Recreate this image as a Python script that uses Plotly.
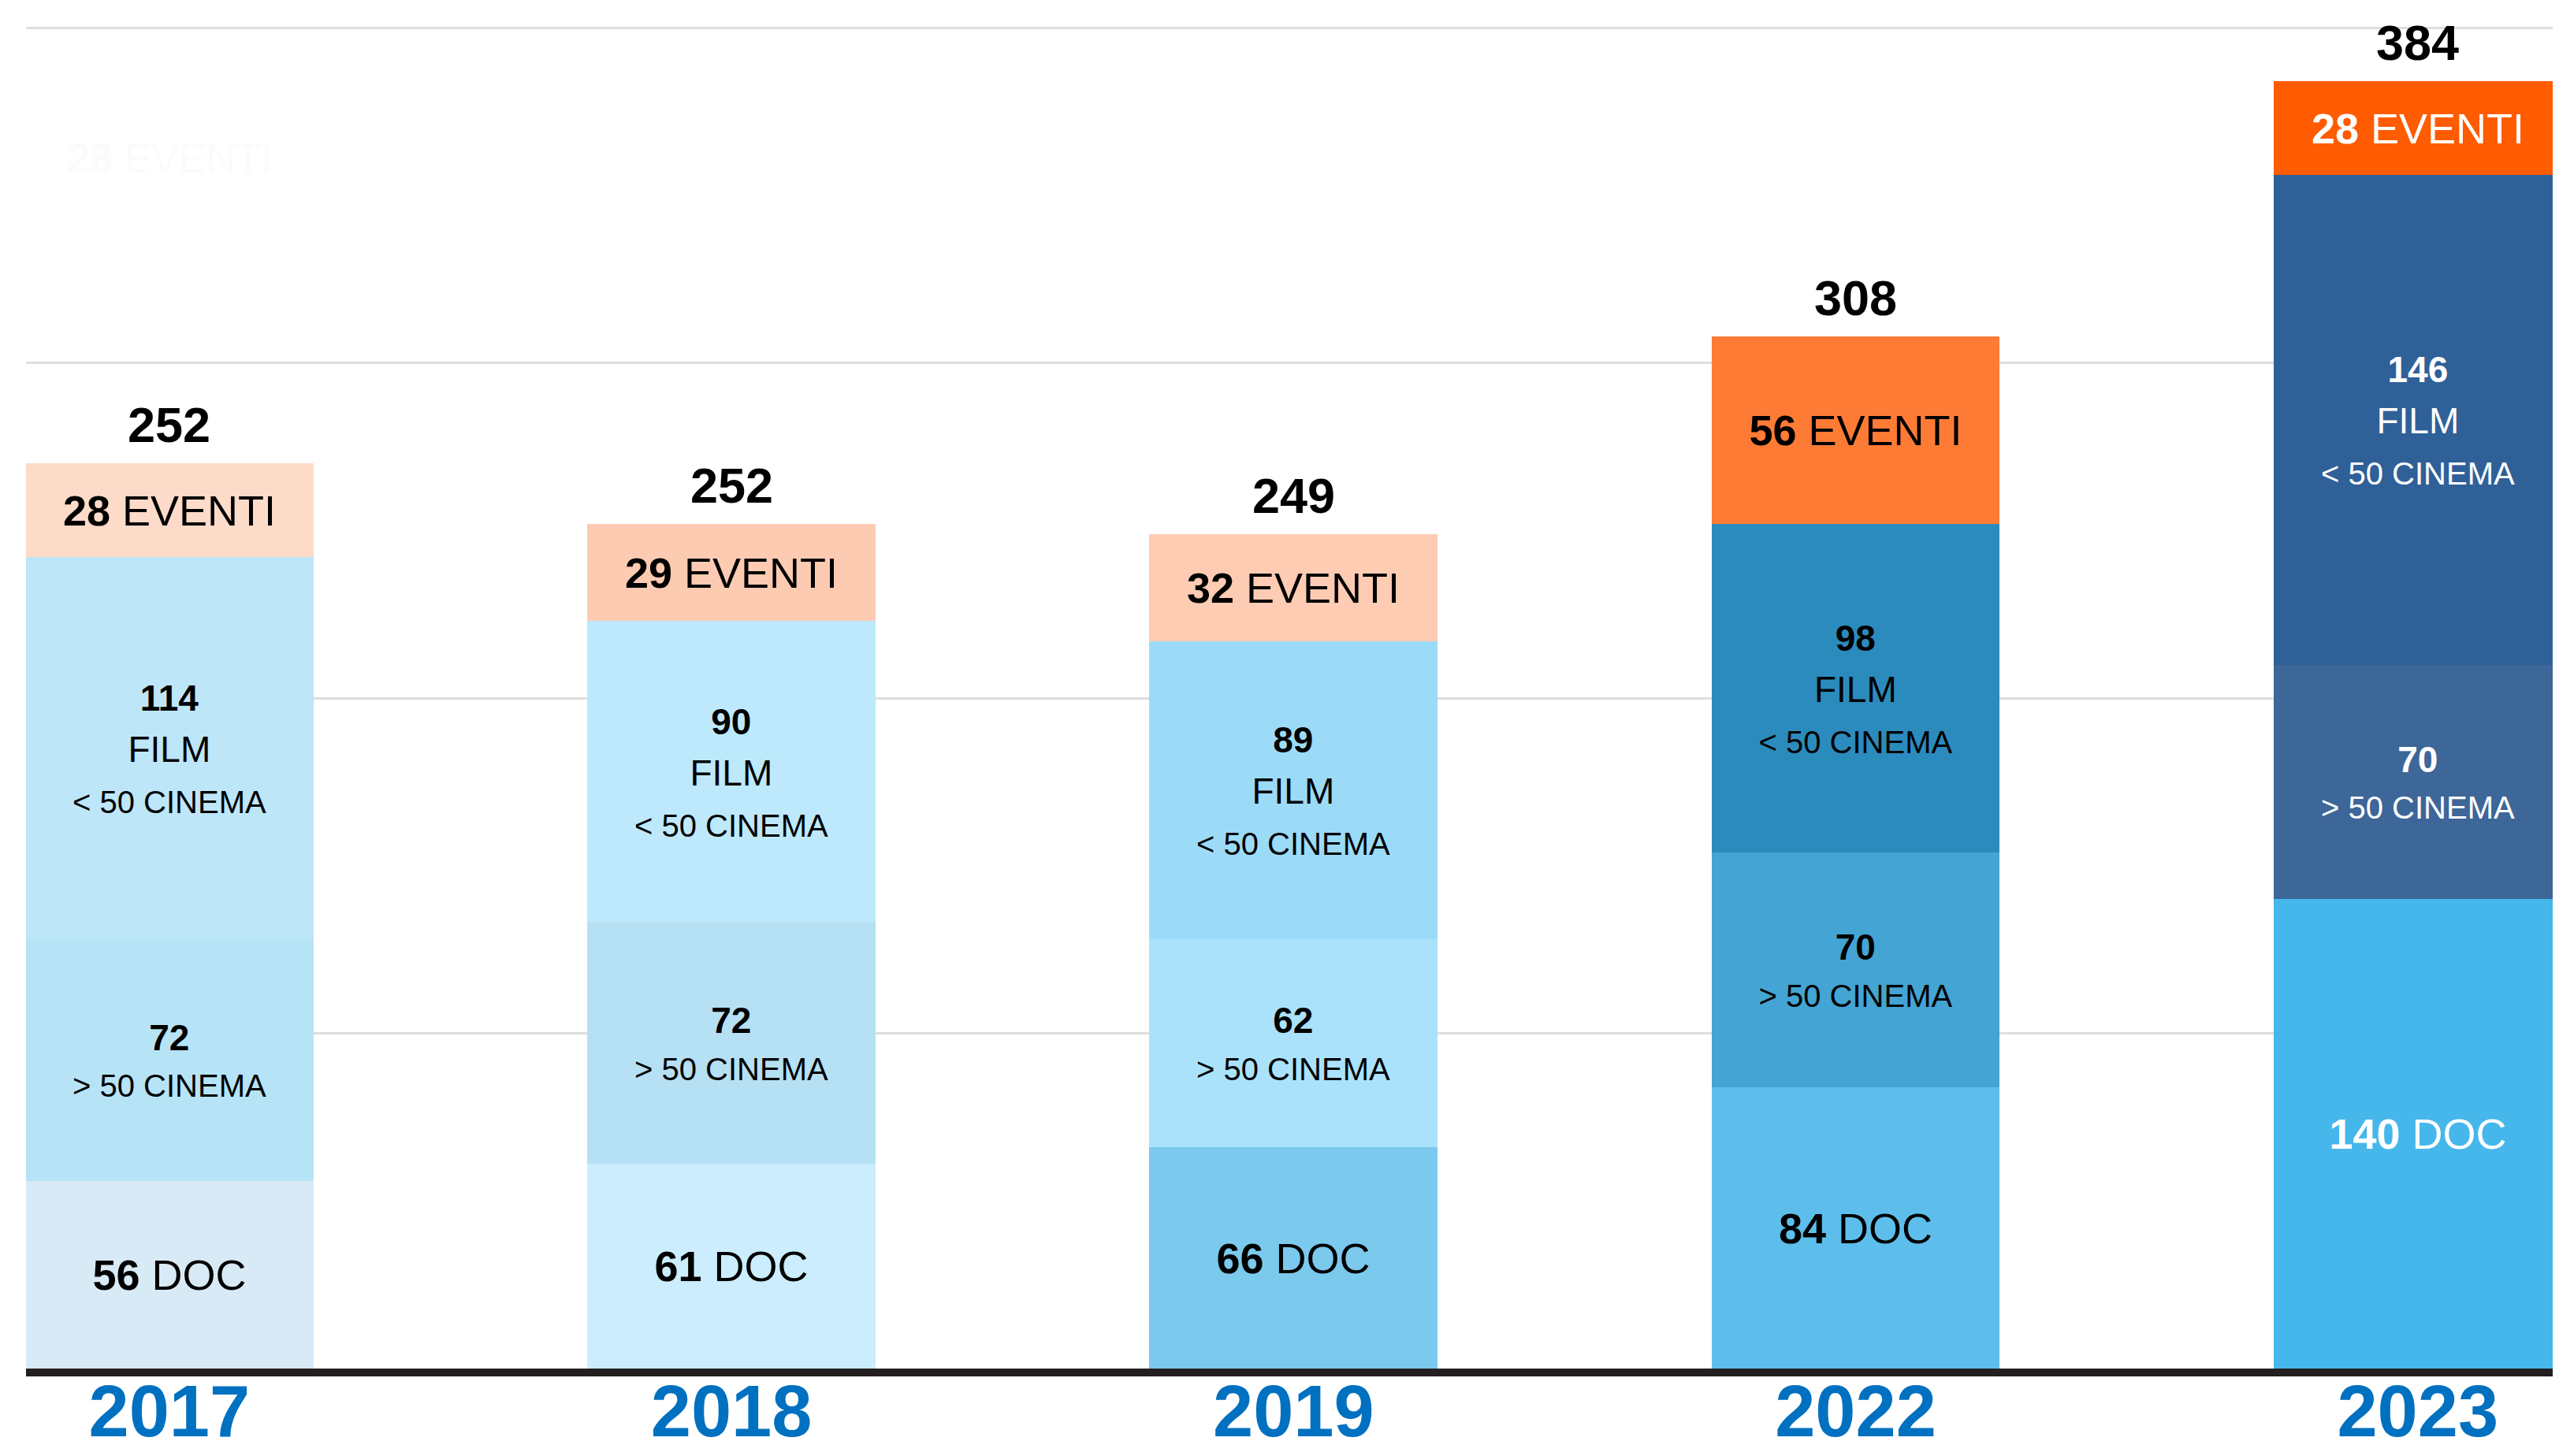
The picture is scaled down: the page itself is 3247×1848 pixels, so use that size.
import plotly.graph_objects as go

years = ["2017", "2018", "2019", "2022", "2023"]
doc = [56, 61, 66, 84, 140]
over50 = [72, 72, 62, 70, 70]
film_under50 = [114, 90, 89, 98, 146]
eventi = [28, 29, 32, 56, 28]
totals = [252, 252, 249, 308, 384]

doc_colors = ["#d8eaf5", "#cbedfd", "#7bc9ed", "#5dbeeb", "#46b7eb"]
over50_colors = ["#b7e3f7", "#b6e0f3", "#abe2fb", "#44a4d3", "#3d6699"]
film_colors = ["#bee6f9", "#bee9fc", "#9cdbf8", "#2c8bbd", "#306098"]
eventi_colors = ["#fddbc9", "#fdcbb2", "#fdccb3", "#fe7b36", "#ff5b00"]
text_colors = ["#000000", "#000000", "#000000", "#000000", "#ffffff"]

FONT = "Liberation Sans, Arial, sans-serif"
BAR_W = 0.513

doc_text = [f"<b>{v}</b> DOC" for v in doc]
over_text = [f"<b>{v}</b><br><span style='font-size:40px'>&gt; 50 CINEMA</span>" for v in over50]
film_text = [
    f"<span style='font-size:46px'><b>{v}</b></span><br>"
    f"<span style='font-size:46px'>FILM</span><br>"
    f"<span style='font-size:40px'>&lt; 50 CINEMA</span>"
    for v in film_under50
]
eventi_text = [f"<b>{v}</b> EVENTI" for v in eventi]

fig = go.Figure()

def add(vals, colors, texts, size):
    fig.add_trace(go.Bar(
        x=years, y=vals, width=BAR_W,
        marker=dict(color=colors, line=dict(width=0)),
        text=texts, texttemplate="%{text}",
        textposition="inside", insidetextanchor="middle",
        constraintext="none", textangle=0,
        textfont=dict(family=FONT, size=size, color=text_colors),
        hoverinfo="skip", showlegend=False,
    ))

add(doc, doc_colors, doc_text, 54)
add(over50, over50_colors, over_text, 46)
add(film_under50, film_colors, film_text, 50)
add(eventi, eventi_colors, eventi_text, 54)

stack_tops = [a + b + c + d for a, b, c, d in zip(doc, over50, film_under50, eventi)]
for i, (top, tot) in enumerate(zip(stack_tops, totals)):
    fig.add_annotation(
        x=i, y=top, xref="x", yref="y", text=f"<b>{tot}</b>", showarrow=False,
        yanchor="bottom", yshift=12,
        font=dict(family=FONT, size=63, color="#000000"),
    )

# faint ghost label present in the original image
fig.add_annotation(
    x=0, y=361, xref="x", yref="y", text="<b>28</b> EVENTI", showarrow=False,
    font=dict(family=FONT, size=52, color="#fbfbfb"),
)

fig.update_layout(
    width=3247, height=1848,
    margin=dict(l=25, r=4, t=23, b=119),
    paper_bgcolor="#ffffff", plot_bgcolor="#ffffff",
    barmode="stack", bargap=0,
    font=dict(family=FONT),
    xaxis=dict(
        type="category", range=[-0.255, 4.257], automargin=False,
        showgrid=False, zeroline=False,
        showline=True, linecolor="#231f20", linewidth=10, ticks="",
        tickfont=dict(family=FONT, size=92, color="#0070c0", weight=700),
        ticklabelstandoff=-34,
    ),
    yaxis=dict(
        range=[0, 401], tickvals=[100, 200, 300, 400], automargin=False,
        showticklabels=False, showgrid=True, gridcolor="#dedede", gridwidth=3,
        zeroline=False, showline=False, ticks="",
    ),
)

fig.write_html("out.html")
